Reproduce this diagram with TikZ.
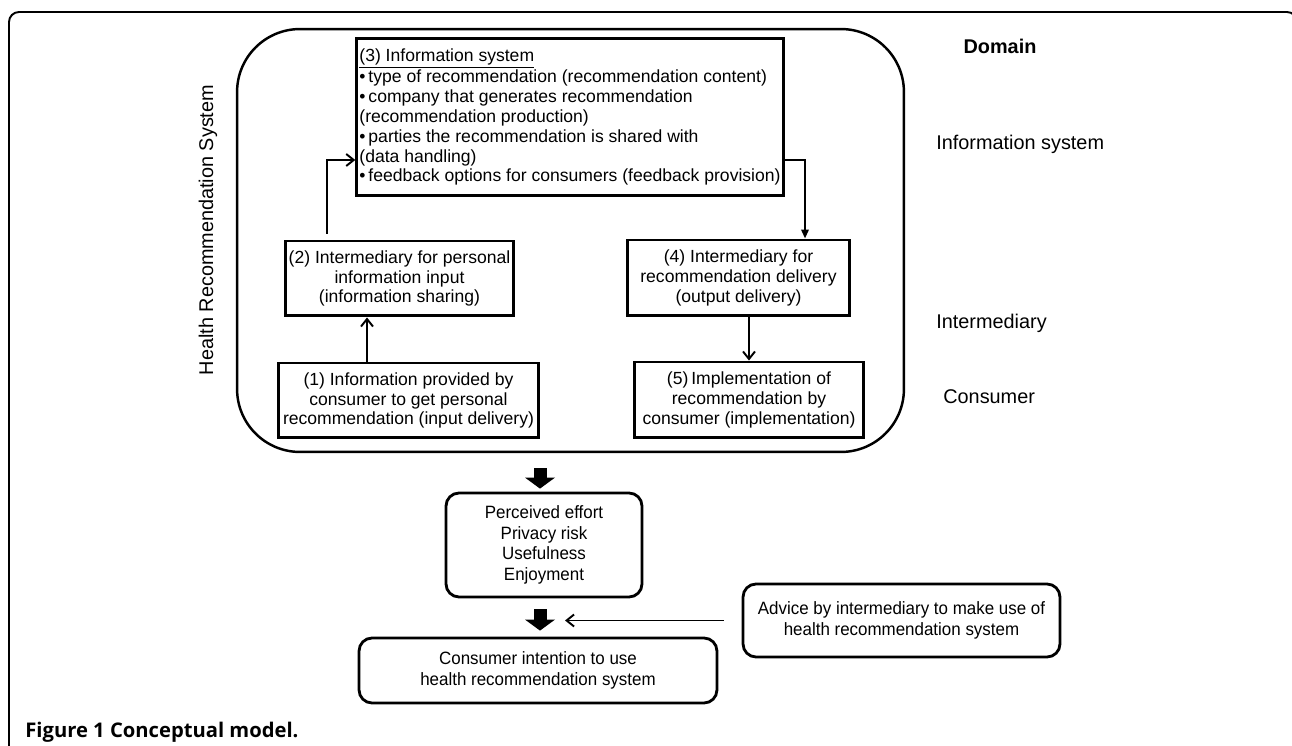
\documentclass[tikz,border=0pt]{standalone}
\usepackage{fontspec}
\setmainfont{Liberation Sans}
\newfontfamily\narrowfont{Liberation Sans}[FakeStretch=0.95]
\newfontfamily\capfont{Open Sans}
\usetikzlibrary{arrows.meta}
\tikzset{
    sbox/.style={draw, line width=1.7pt, inner sep=1.5pt, align=center, font=\fontsize{10}{11.3}\selectfont},
    rbox/.style={draw, line width=1.6pt, rounded corners=0.26cm, inner sep=1pt, align=center, font=\narrowfont\fontsize{10.15}{11.7}\selectfont},
    openarr/.style={line width=1.1pt, -{Straight Barb[length=0.15cm,width=0.24cm]}},
    filarr/.style={line width=1.1pt, -{Triangle[length=0.18cm,width=0.15cm]}},
    fatarr/.style={line width=0.26cm, -{Triangle[length=0.22cm,width=0.6cm,line width=0pt]}},
    domlabel/.style={anchor=west, inner sep=0pt, font=\fontsize{11.3}{13}\selectfont}
}

\begin{document}
\begin{tikzpicture}[x=0.02cm,y=-0.02cm]
    \path[use as bounding box] (0,0) rectangle (1292,746);
    \clip (0,0) rectangle (1292,746);
    \draw[line width=1.1pt, rounded corners=0.2cm] (9,760) |- (1297,12) -- (1297,760);

    \node[draw, line width=1.4pt, rounded corners=1.26cm, minimum width=13.34cm, minimum height=8.46cm] (hrs) at (570.5,240.5) {};
    \node[rotate=90, font=\fontsize{11.3}{13}\selectfont] (hrslab) at (208,230) {Health Recommendation System};

    \node[sbox, align=left, minimum width=8.48cm, minimum height=3.16cm] (b3) at (570,117) {\underline{(3) Information system}\\
        •\,type of recommendation (recommendation content)\\
        •\,company that generates recommendation\\
        (recommendation production)\\
        •\,parties the recommendation is shared with\\
        (data handling)\\
        •\,feedback options for consumers (feedback provision)};
    \node[sbox, minimum width=4.58cm, minimum height=1.5cm] (b2) at (399.5,278.5) {(2) Intermediary for personal\\information input\\(information sharing)};
    \node[sbox, minimum width=5.22cm, minimum height=1.5cm] (b1) at (408.5,400.5) {(1) Information provided by\\consumer to get personal\\recommendation (input delivery)};
    \node[sbox, minimum width=4.46cm, minimum height=1.52cm] (b4) at (738.5,278) {(4) Intermediary for\\recommendation delivery\\(output delivery)};
    \node[sbox, minimum width=4.6cm, minimum height=1.52cm] (b5) at (749,400) {(5)\,Implementation of\\recommendation by\\consumer (implementation)};

    \node[font=\bfseries\fontsize{11.3}{13}\selectfont] (dom) at (1000,46) {Domain};
    \node[domlabel] (dinfo) at (936,144) {Information system};
    \node[domlabel] (dinter) at (936,323) {Intermediary};
    \node[domlabel] (dcons) at (943,397) {Consumer};

    \node[rbox, minimum width=3.92cm, minimum height=2.08cm] (perc) at (544,545) {Perceived effort\\Privacy risk\\Usefulness\\Enjoyment};
    \node[rbox, minimum width=7.16cm, minimum height=1.3cm] (intent) at (538,670.5) {Consumer intention to use\\health recommendation system};
    \node[rbox, minimum width=6.34cm, minimum height=1.46cm] (advice) at (901.5,620.5) {Advice by intermediary to make use of\\health recommendation system};

    \node[anchor=west, inner sep=0pt, font=\capfont\bfseries\fontsize{11.5}{13}\selectfont] (cap) at (25,732) {Figure 1 Conceptual model.};

    \coordinate (ua) at (367,0);
    \coordinate (ub) at (327,0);
    \coordinate (uc) at (0,160);
    \coordinate (ud) at (805,0);
    \coordinate (ue) at (540,0);
    \coordinate (uf) at (565,0);

    \draw[openarr] (b1.north -| ua) -- (b2.south -| ua);
    \draw[openarr, shorten <=0.12cm] (b2.north -| ub) |- (b3.west |- uc);
    \draw[filarr] (b3.east |- uc) -| (b4.north -| ud);
    \draw[openarr] (b4.south -| b5.north) -- (b5.north);
    \draw[fatarr, shorten <=0.3cm, shorten >=0.06cm] (hrs.south -| ue) -- (perc.north -| ue);
    \draw[fatarr, shorten <=0.22cm, shorten >=0.12cm] (perc.south -| ue) -- (intent.north -| ue);
    \draw[openarr, shorten <=0.36cm] (advice.west) -- (advice.west -| uf);
\end{tikzpicture}
\end{document}
